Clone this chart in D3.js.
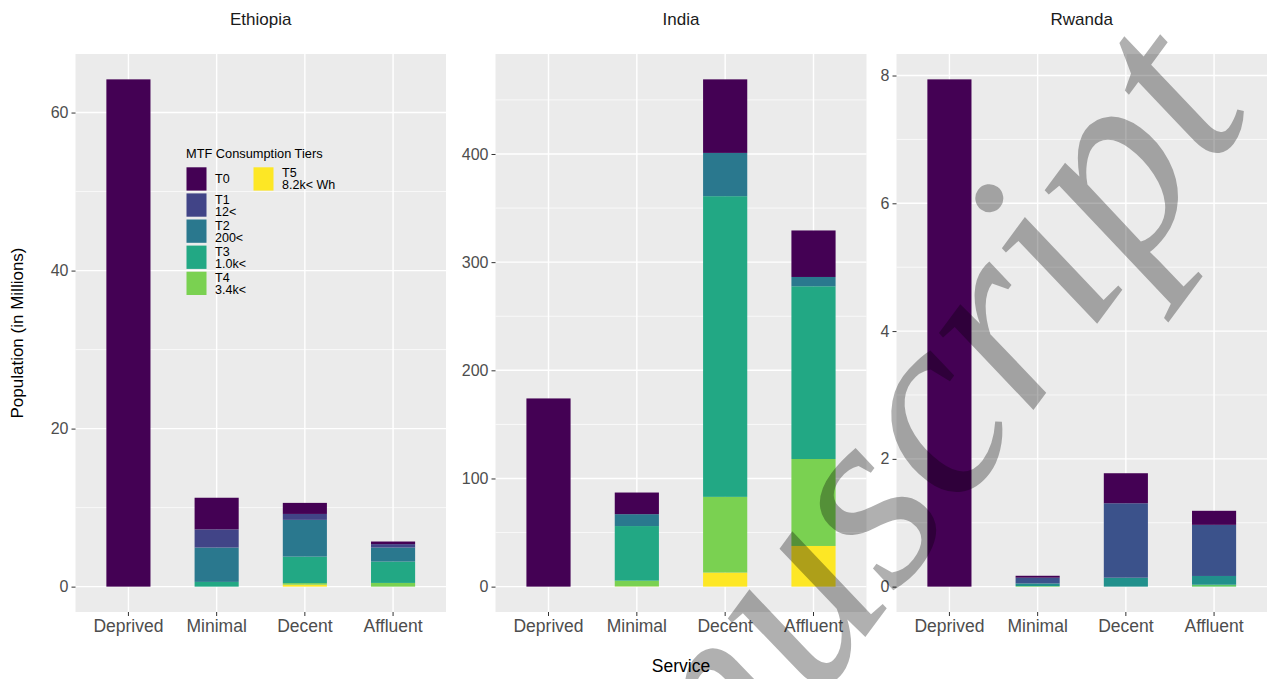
<!DOCTYPE html>
<html>
<head>
<meta charset="utf-8">
<script src="https://cdn.jsdelivr.net/npm/d3@7"></script>
<style>
  html, body { margin: 0; padding: 0; background: #ffffff; }
  svg { display: block; font-family: "Liberation Sans", Arial, sans-serif; }
</style>
</head>
<body>
<svg id="chart" width="1271" height="679"></svg>
<script>
// ---------------- DATA ----------------
const countries = ["Ethiopia", "India", "Rwanda"];
const services = ["Deprived", "Minimal", "Decent", "Affluent"];
const tiers = ["T0", "T1", "T2", "T3", "T4", "T5"];
const tierLabels = [["T0"], ["T1", "12<"], ["T2", "200<"], ["T3", "1.0k<"], ["T4", "3.4k<"], ["T5", "8.2k< Wh"]];
const legendTitle = "MTF Consumption Tiers";

// values in millions, rows = tiers T0..T5, columns = services
const ethiopia = [
  [64.2, 4.0, 1.4, 0.33],
  [0, 2.3, 0.75, 0.43],
  [0, 4.35, 4.65, 1.78],
  [0, 0.6, 3.35, 2.7],
  [0, 0, 0.2, 0.47],
  [0, 0, 0.25, 0]
];
const india = [
  [174, 20, 68, 43],
  [0, 0, 0, 0],
  [0, 11, 40, 8.6],
  [0, 50.5, 278, 159.7],
  [0, 5.3, 70, 80.4],
  [0, 0.2, 13, 37.6]
];
const rwanda = [
  [7.94, 0.03, 0.47, 0.22],
  [0, 0.09, 1.165, 0.80],
  [0, 0.04, 0.14, 0.137],
  [0, 0.01, 0, 0.03],
  [0, 0, 0, 0],
  [0, 0, 0, 0]
];
const ethiopiaTicks = [0, 20, 40, 60];
const indiaTicks = [0, 100, 200, 300, 400];
const rwandaTicks = [0, 2, 4, 6, 8];

// colours
const viridis6 = ["#440154", "#414487", "#2A788E", "#22A884", "#7AD151", "#FDE725"];
const viridis5 = ["#440154", "#3B528B", "#21908C", "#5DC863", "#FDE725", "#FDE725"];

// ---------------- LAYOUT ----------------
const svg = d3.select("#chart");
const plotTop = 54, plotBottom = 612;
const panels = [
  { name: countries[0], values: ethiopia, ticks: ethiopiaTicks, x0: 75.5, x1: 446, colors: viridis6 },
  { name: countries[1], values: india, ticks: indiaTicks, x0: 495.5, x1: 866.5, colors: viridis6 },
  { name: countries[2], values: rwanda, ticks: rwandaTicks, x0: 896.5, x1: 1267, colors: viridis5 }
];

panels.forEach(p => {
  const g = svg.append("g");
  const x = d3.scaleBand().domain(services).range([p.x0, p.x1]).paddingInner(0.5).paddingOuter(0.35);
  const rows = services.map((s, j) => {
    const o = { service: s };
    tiers.forEach((t, i) => { o[t] = p.values[i][j]; });
    return o;
  });
  const stack = d3.stack().keys(tiers.slice().reverse())(rows);
  const maxTotal = d3.max(rows, r => d3.sum(tiers, t => r[t]));
  const y = d3.scaleLinear().domain([-0.05 * maxTotal, 1.05 * maxTotal]).range([plotBottom, plotTop]);

  g.append("rect").attr("x", p.x0).attr("y", plotTop).attr("width", p.x1 - p.x0).attr("height", plotBottom - plotTop).attr("fill", "#EBEBEB");

  const step = p.ticks[1] - p.ticks[0];
  const minor = [];
  for (let v = p.ticks[0] - step / 2; v <= y.domain()[1]; v += step) {
    if (v >= y.domain()[0]) minor.push(v);
  }
  g.selectAll(".minor").data(minor).join("line")
    .attr("x1", p.x0).attr("x2", p.x1).attr("y1", d => y(d)).attr("y2", d => y(d))
    .attr("stroke", "#ffffff").attr("stroke-width", 0.7);
  g.selectAll(".major").data(p.ticks).join("line")
    .attr("x1", p.x0).attr("x2", p.x1).attr("y1", d => y(d)).attr("y2", d => y(d))
    .attr("stroke", "#ffffff").attr("stroke-width", 1.4);
  g.selectAll(".vmajor").data(services).join("line")
    .attr("x1", d => x(d) + x.bandwidth() / 2).attr("x2", d => x(d) + x.bandwidth() / 2)
    .attr("y1", plotTop).attr("y2", plotBottom)
    .attr("stroke", "#ffffff").attr("stroke-width", 1.4);

  stack.forEach(layer => {
    const ti = tiers.indexOf(layer.key);
    g.append("g").selectAll("rect").data(layer.filter(d => d[1] - d[0] > 0)).join("rect")
      .attr("x", d => x(d.data.service))
      .attr("width", x.bandwidth())
      .attr("y", d => y(d[1]))
      .attr("height", d => y(d[0]) - y(d[1]))
      .attr("fill", p.colors[ti]);
  });

  const yAxis = d3.axisLeft(y).tickValues(p.ticks).tickSize(4).tickPadding(3);
  const ya = g.append("g").attr("transform", `translate(${p.x0},0)`).call(yAxis);
  ya.select(".domain").remove();
  ya.selectAll("line").attr("stroke", "#333333");
  ya.selectAll("text").attr("fill", "#4D4D4D").style("font-size", "16px").style("font-family", "Liberation Sans, Arial, sans-serif");

  const xAxis = d3.axisBottom(x).tickSize(4).tickPadding(4);
  const xa = g.append("g").attr("transform", `translate(0,${plotBottom})`).call(xAxis);
  xa.select(".domain").remove();
  xa.selectAll("line").attr("stroke", "#333333");
  xa.selectAll("text").attr("fill", "#4D4D4D").style("font-size", "17.5px").style("font-family", "Liberation Sans, Arial, sans-serif");

  g.append("text").attr("x", (p.x0 + p.x1) / 2).attr("y", 25).attr("text-anchor", "middle")
    .attr("fill", "#1A1A1A").style("font-size", "17px").text(p.name);
});

svg.append("text").attr("x", 681).attr("y", 672).attr("text-anchor", "middle")
  .attr("fill", "#000").style("font-size", "17.5px").text("Service");
svg.append("text").attr("transform", "translate(23,333) rotate(-90)").attr("text-anchor", "middle")
  .attr("fill", "#000").style("font-size", "17px").text("Population (in Millions)");

const lg = svg.append("g");
lg.append("text").attr("x", 186).attr("y", 158).attr("fill", "#000").style("font-size", "12.8px").text(legendTitle);
const keyW = 20, keyH = 23.3, pitch = 26.1;
tiers.forEach((t, i) => {
  const col = i < 5 ? 0 : 1;
  const row = i < 5 ? i : 0;
  const kx = col === 0 ? 186.5 : 253.5;
  const ky = 167.3 + row * pitch;
  lg.append("rect").attr("x", kx).attr("y", ky).attr("width", keyW).attr("height", keyH).attr("fill", viridis6[i]);
  const lines = tierLabels[i];
  const cy = ky + keyH / 2;
  const lh = 12;
  const txt = lg.append("text").attr("fill", "#000").style("font-size", "12.5px");
  lines.forEach((l, k) => {
    txt.append("tspan").attr("x", kx + 28.5)
      .attr("y", cy - (lines.length - 1) * lh / 2 + 4.5 + k * lh).text(l);
  });
});

svg.append("text")
  .attr("transform", "translate(528,1093) rotate(-53.5)")
  .attr("fill", "#000").attr("fill-opacity", 0.31)
  .style("font-family", "Liberation Serif, Times New Roman, serif")
  .style("font-style", "italic")
  .style("font-size", "265px")
  .text("Manuscript");
</script>
</body>
</html>
